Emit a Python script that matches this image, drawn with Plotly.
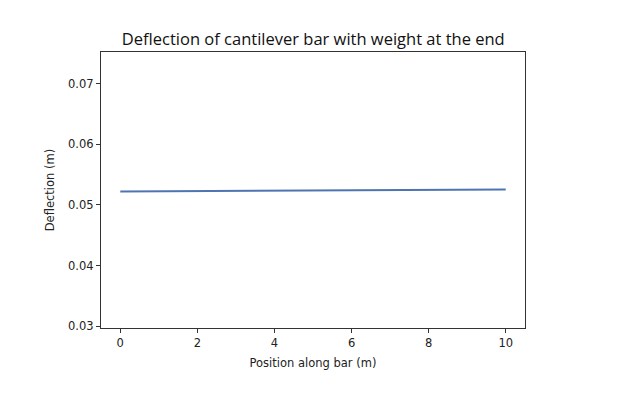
import plotly.graph_objects as go

position = [0, 2, 4, 6, 8, 10]
deflection = [0.05220, 0.05227, 0.05234, 0.05241, 0.05248, 0.05255]
x_ticks = [0, 2, 4, 6, 8, 10]
y_ticks = [0.03, 0.04, 0.05, 0.06, 0.07]

fig = go.Figure()
fig.add_trace(go.Scatter(x=position, y=deflection, mode="lines",
                         line=dict(color="#4f74b2", width=2), showlegend=False))

axis_common = dict(showline=True, linecolor="#333333", linewidth=1.2, mirror=True,
                   ticks="outside", ticklen=4, tickcolor="#333333", showgrid=False,
                   zeroline=False, tickfont=dict(family="DejaVu Sans", size=11.5, color="#222222"))

fig.update_layout(
    width=640, height=394,
    margin=dict(l=93, r=123, t=44, b=74),
    paper_bgcolor="white", plot_bgcolor="white",
    title=dict(text="Deflection of cantilever bar with weight at the end",
               x=0.477, xanchor="center", y=0.921, yanchor="middle",
               font=dict(family="Open Sans", size=16.5, color="#111111")),
    xaxis=dict(range=[-0.5, 10.5], tickvals=x_ticks, ticktext=[str(v) for v in x_ticks],
               title=dict(text="Position along bar (m)", standoff=10,
                          font=dict(family="DejaVu Sans", size=11.5, color="#222222")),
               **axis_common),
    yaxis=dict(range=[0.0297, 0.0752], tickvals=y_ticks, ticktext=[f"{v:.2f}" for v in y_ticks],
               title=dict(text="Deflection (m)", standoff=10,
                          font=dict(family="DejaVu Sans", size=11.5, color="#222222")),
               **axis_common),
)

fig.write_html("out.html")
